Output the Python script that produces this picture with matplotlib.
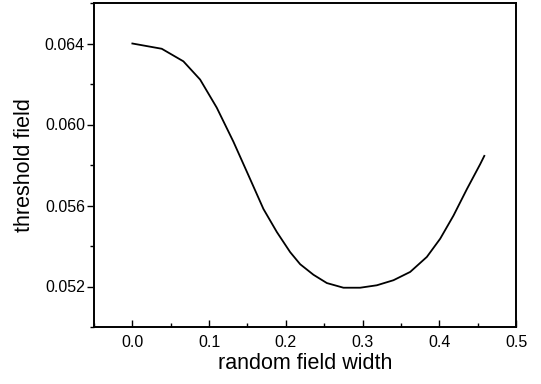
import matplotlib
matplotlib.use("Agg")
import matplotlib.pyplot as plt
from matplotlib.ticker import MultipleLocator

# curve
width = [0.0, 0.0383, 0.0665, 0.0883, 0.110, 0.1317, 0.1512, 0.1708, 0.1883,
         0.2056, 0.2187, 0.2360, 0.2535, 0.2751, 0.2969, 0.3186, 0.3403,
         0.3621, 0.3838, 0.4012, 0.4185, 0.4360, 0.4533, 0.4587]
threshold = [0.06400, 0.06374, 0.06312, 0.06222, 0.06083, 0.05915, 0.05750,
             0.05583, 0.05469, 0.05370, 0.05310, 0.05258, 0.05217, 0.05194,
             0.05194, 0.05206, 0.05231, 0.05272, 0.05346, 0.05436, 0.05550,
             0.05681, 0.05804, 0.05845]

xticks = [0.0, 0.1, 0.2, 0.3, 0.4, 0.5]
yticks = [0.052, 0.056, 0.060, 0.064]

plt.rcParams['font.family'] = ['Liberation Sans', 'DejaVu Sans']

fig = plt.figure(figsize=(5.41, 3.84), dpi=100)
ax = fig.add_axes([94 / 541, 1 - 327 / 384, (516 - 94) / 541, (327 - 3) / 384])

ax.plot(width, threshold, color='black', lw=1.3, solid_joinstyle='round')

ax.set_xlim(-0.05, 0.5)
ax.set_ylim(0.050, 0.066)
ax.set_xticks(xticks)
ax.set_xticklabels([f"{v:.1f}" for v in xticks])
ax.set_yticks(yticks)
ax.set_yticklabels([f"{v:.3f}" for v in yticks])
ax.xaxis.set_minor_locator(MultipleLocator(0.05))
ax.yaxis.set_minor_locator(MultipleLocator(0.002))

ax.tick_params(axis='x', which='both', direction='in', labelsize=11.5, pad=6)
ax.tick_params(axis='y', which='both', direction='out', labelsize=11.5, pad=1.5)
ax.tick_params(which='major', length=5, width=1)
ax.tick_params(which='minor', length=3, width=1)
for s in ax.spines.values():
    s.set_linewidth(1.4)

ax.set_xlabel('random field width', fontsize=15.5, labelpad=2)
ax.set_ylabel('threshold field', fontsize=15.5, labelpad=7)

fig.savefig('out.png', dpi=100)
